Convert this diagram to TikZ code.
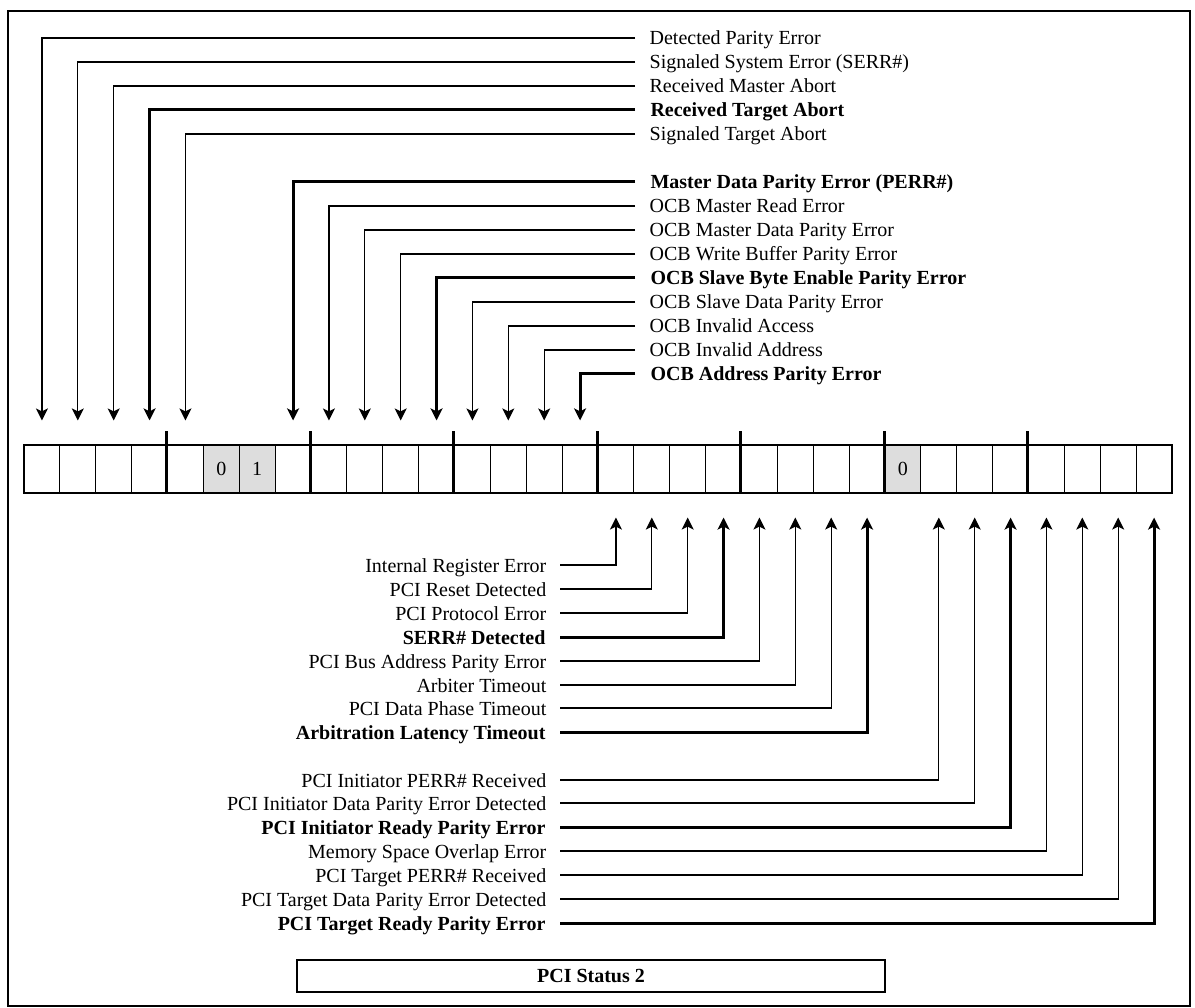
\documentclass[tikz,border=0pt]{standalone}
\usepackage{fontspec}
\setmainfont{Liberation Serif}
\usepackage{tikz}
\usetikzlibrary{arrows.meta}
\definecolor{cellgray}{RGB}{221,221,221}
\newcommand{\lblfont}{\fontsize{20}{24}\selectfont}
\tikzset{
  cell/.style={rectangle, draw, line width=1.2pt, minimum width=35.875pt,
    minimum height=48pt, inner sep=0pt, font=\lblfont},
  fixedcell/.style={cell, fill=cellgray},
  divider/.style={line width=3pt},
  toplbl/.style={anchor=west, inner xsep=14pt, inner ysep=0pt,
    text height=14pt, text depth=0pt},
  botlbl/.style={anchor=east, inner xsep=13pt, inner ysep=0pt,
    text height=14pt, text depth=0pt},
  bitn/.style={font=\lblfont, line width=1.3pt},
  bitb/.style={font=\lblfont\bfseries, line width=3pt},
  arrow/.style={-{Stealth[length=12pt, width=12pt, inset=3pt]}, shorten >=24pt},
  frame/.style={line width=2.5pt},
  titlebox/.style={rectangle, draw, line width=1.5pt, minimum width=588pt,
    minimum height=32pt, font=\lblfont\bfseries}
}

\begin{document}
\begin{tikzpicture}[x=1pt, y=-1pt]
  \useasboundingbox (0,0) rectangle (1195,1008);
  \draw[frame] (8,11) rectangle (1190,1006);

  % Register cells, bit 31 on the left
  \foreach \i in {0,...,31}
    \node[cell] (c\i) at ({24+35.875*(\i+0.5)}, 469) {};
  \foreach \i/\v in {5/0, 6/1, 24/0}
    \node[fixedcell] (f\i) at (c\i) {\v};
  \foreach \i in {4,8,...,28}
    \draw[divider] (c\i.north west) ++(0,-13) -- (c\i.south west);

  % Upper half labels
  \foreach \b/\yy/\st/\txt in {
    0/38/bitn/{Detected Parity Error},
    1/62/bitn/{Signaled System Error (SERR\#)},
    2/86/bitn/{Received Master Abort},
    3/110/bitb/{Received Target Abort},
    4/134/bitn/{Signaled Target Abort},
    7/182/bitb/{Master Data Parity Error (PERR\#)},
    8/206/bitn/{OCB Master Read Error},
    9/230/bitn/{OCB Master Data Parity Error},
    10/254/bitn/{OCB Write Buffer Parity Error},
    11/278/bitb/{OCB Slave Byte Enable Parity Error},
    12/302/bitn/{OCB Slave Data Parity Error},
    13/326/bitn/{OCB Invalid Access},
    14/350/bitn/{OCB Invalid Address},
    15/374/bitb/{OCB Address Parity Error}}{
    \node[toplbl, \st] (t\b) at (635,\yy) {\txt};
    \draw[\st, arrow] (t\b.west) -| (c\b.north);
  }

  % Lower half labels
  \foreach \b/\yy/\st/\txt in {
    16/565/bitn/{Internal Register Error},
    17/589/bitn/{PCI Reset Detected},
    18/613/bitn/{PCI Protocol Error},
    19/637/bitb/{SERR\# Detected},
    20/661/bitn/{PCI Bus Address Parity Error},
    21/685/bitn/{Arbiter Timeout},
    22/708/bitn/{PCI Data Phase Timeout},
    23/732/bitb/{Arbitration Latency Timeout},
    25/780/bitn/{PCI Initiator PERR\# Received},
    26/803/bitn/{PCI Initiator Data Parity Error Detected},
    27/827/bitb/{PCI Initiator Ready Parity Error},
    28/851/bitn/{Memory Space Overlap Error},
    29/875/bitn/{PCI Target PERR\# Received},
    30/899/bitn/{PCI Target Data Parity Error Detected},
    31/923/bitb/{PCI Target Ready Parity Error}}{
    \node[botlbl, \st] (l\b) at (560,\yy) {\txt};
    \draw[\st, arrow] (l\b.east) -| (c\b.south);
  }

  \node[titlebox] (title) at (591,976) {PCI Status 2};
\end{tikzpicture}
\end{document}
